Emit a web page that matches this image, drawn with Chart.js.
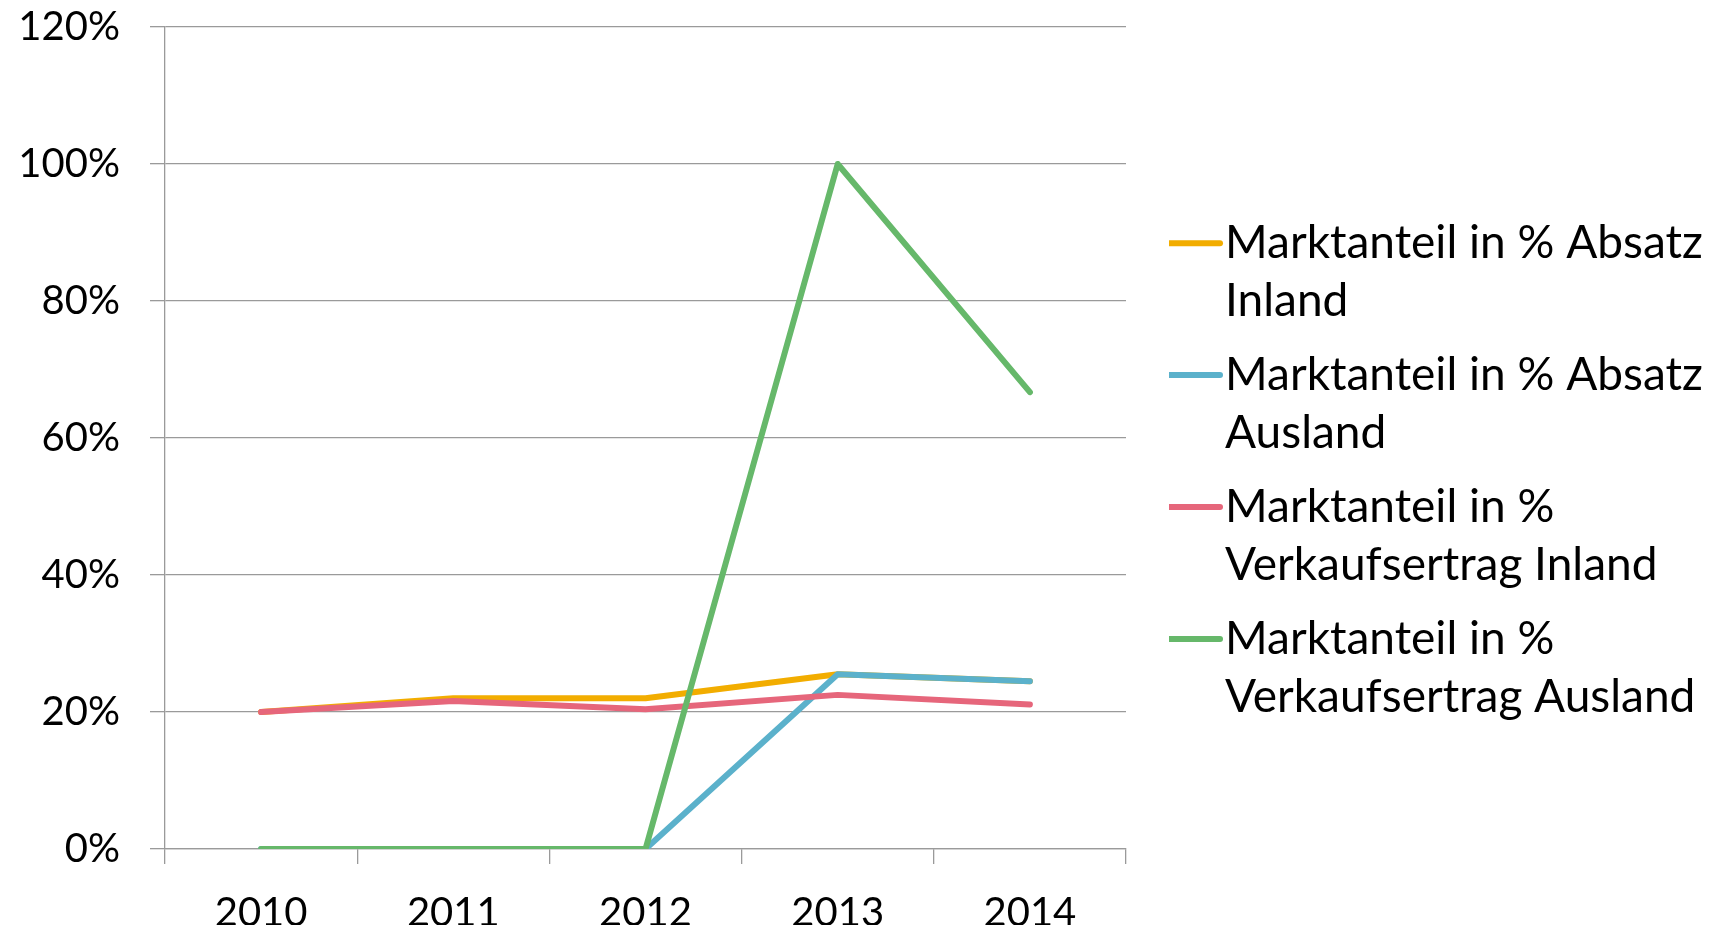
<!DOCTYPE html>
<html>
<head>
<meta charset="utf-8">
<script src="https://cdn.jsdelivr.net/npm/chart.js@4/dist/chart.umd.min.js"></script>
<style>
  html, body { margin:0; padding:0; background:#fff; }
  #wrap { width:1715px; height:937px; position:relative; }
</style>
</head>
<body>
<div id="wrap"><canvas id="chart"></canvas></div>
<script>
'use strict';
// data (percent)
const years = ['2010', '2011', '2012', '2013', '2014'];
const absatzInland       = [20.0, 22.0, 22.0, 25.5, 24.5];
const absatzAusland      = [0, 0, 0, 25.5, 24.5];
const ertragInland       = [20.0, 21.6, 20.4, 22.5, 21.1];
const ertragAusland      = [0, 0, 0, 100, 66.7];
const seriesLabels = [
  ['Marktanteil in % Absatz', 'Inland'],
  ['Marktanteil in % Absatz', 'Ausland'],
  ['Marktanteil in %', 'Verkaufsertrag Inland'],
  ['Marktanteil in %', 'Verkaufsertrag Ausland'],
];
const seriesColors = ['#f2ad00', '#5bb1cb', '#e6667b', '#66b86a'];
const yTickLabels = ['0%', '20%', '40%', '60%', '80%', '100%', '120%'];

const GRID = '#9a9a9a';
const LW = 6;
Chart.defaults.font.family = 'Lato';
Chart.defaults.color = '#000';

const ds = (i, data) => ({
  label: seriesLabels[i].join(' '), data,
  borderColor: seriesColors[i], backgroundColor: seriesColors[i],
  borderWidth: LW, borderCapStyle: 'round', borderJoinStyle: 'round',
  pointRadius: 0, tension: 0, fill: false, order: 4 - i,
});

// fixed legend width so the plot ends where the reference does
const fixLegend = {
  id: 'fixLegend',
  beforeLayout(chart) {
    const lg = chart.legend;
    if (lg && !lg._fixed) {
      const fit = lg.fit;
      lg.fit = function () { fit.call(this); this.width = 546; };
      lg._fixed = true;
    }
  },
};

new Chart(document.getElementById('chart'), {
  type: 'line',
  data: {
    labels: years,
    datasets: [ds(0, absatzInland), ds(1, absatzAusland), ds(2, ertragInland), ds(3, ertragAusland)],
  },
  plugins: [fixLegend],
  options: {
    responsive: true, maintainAspectRatio: false, animation: false,
    layout: { padding: { top: 27, left: 0, right: 0, bottom: 12 } },
    plugins: {
      tooltip: { enabled: false },
      legend: {
        position: 'right', align: 'center',
        labels: {
          font: { size: 46, lineHeight: 1.26 },
          usePointStyle: true, pointStyle: 'line',
          boxWidth: 17, boxHeight: 37.5, padding: 16,
          sort: (a, b) => a.datasetIndex - b.datasetIndex,
          generateLabels(chart) {
            const items = Chart.defaults.plugins.legend.labels.generateLabels(chart);
            items.forEach(it => { it.text = seriesLabels[it.datasetIndex]; it.lineWidth = LW; it.lineCap = 'round'; });
            return items;
          },
        },
      },
    },
    scales: {
      x: {
        offset: true,
        grid: { offset: true, drawOnChartArea: false, tickLength: 15, color: GRID, lineWidth: 1.3 },
        border: { color: GRID, width: 1.3 },
        ticks: { font: { size: 40 }, padding: 25 },
        afterFit(s) { s.height = 76; },
      },
      y: {
        min: 0, max: 120,
        grid: { tickLength: 15, color: GRID, lineWidth: 1.3 },
        border: { color: GRID, width: 1.3 },
        ticks: { stepSize: 20, font: { size: 40 }, padding: 30,
          callback: (v, i) => yTickLabels[i] },
        afterFit(s) { s.width = 165; s.paddingTop = 0; s.paddingBottom = 0; },
      },
      y2: {
        position: 'right', display: true,
        grid: { display: false }, border: { display: false }, ticks: { display: false },
        afterFit(s) { s.width = 43; },
      },
    },
  },
});
</script>
</body>
</html>
